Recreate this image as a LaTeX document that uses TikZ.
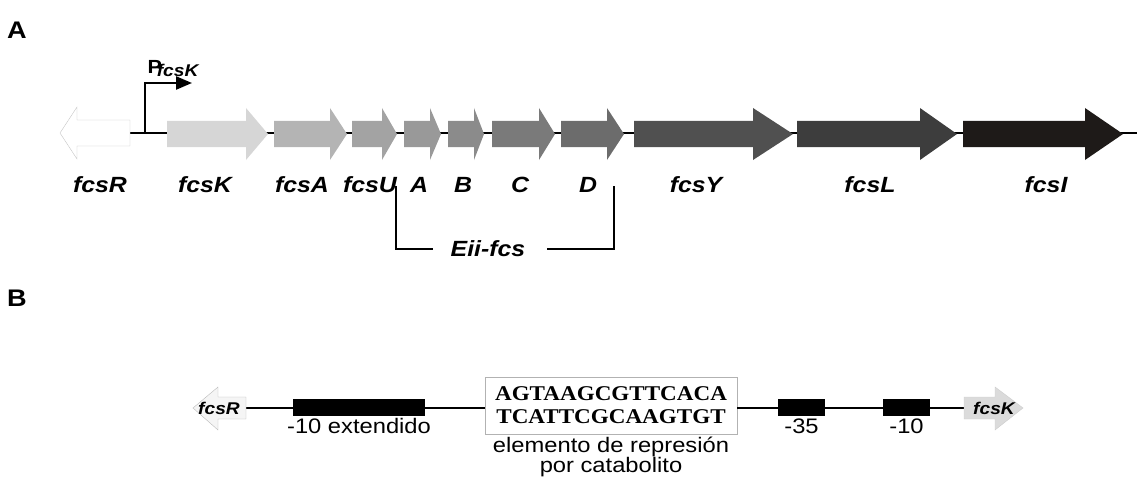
\documentclass[tikz,border=0pt]{standalone}
\usepackage{fontspec}
\setmainfont[FakeStretch=1.13]{Liberation Sans}
\newfontfamily\seqfont[FakeStretch=1.1]{Liberation Serif}
\usetikzlibrary{arrows.meta, positioning}

\tikzset{
  panellabel/.style={font=\fontsize{24}{24}\selectfont\bfseries},
  genelabel/.style={font=\fontsize{22}{24}\selectfont\bfseries\itshape},
  smallgene/.style={font=\fontsize{17}{18}\selectfont\bfseries\itshape, inner sep=0pt},
  boxlabel/.style={font=\fontsize{21}{20}\selectfont, align=center, inner sep=2pt},
  site/.style={fill=black, minimum height=17pt, inner sep=0pt},
  backbone/.style={line width=1.6pt},
}

\begin{document}
\begin{tikzpicture}[x=1pt,y=-1pt]
\useasboundingbox (0,0) rectangle (1137,484);

% ---------------- panel A ----------------
\node (labA) [panellabel] at (17,30) {A};

\coordinate (bbA) at (130,133);
\coordinate (bbAend) at (1137,133);
\draw[backbone] (bbA) -- (bbAend);

% fcsR points to the left
\draw[fill=white, draw=gray!45] (130,120) -- (77,120) -- (77,107) -- (60,133) -- (77,159) -- (77,146) -- (130,146) -- cycle;

% genes: body start / head base / tip / colour
\foreach \xb/\xh/\xt/\col in {167/246/268/D6D6D6, 274/330/347/B4B4B4, 352/382/397/A3A3A3,
  404/430/441/999999, 448/474/484/8B8B8B, 492/539/555/7A7A7A, 561/607/624/6C6C6C,
  634/753/793/505050, 797/920/957/3D3D3D, 963/1085/1123/1E1A18} {
  \definecolor{genecol}{HTML}{\col}
  \fill[genecol] (\xb,121) -- (\xh,121) -- (\xh,108) -- (\xt,134) -- (\xh,160) -- (\xh,147) -- (\xb,147) -- cycle;
}

% promoter
\coordinate (prom) at (145,133);
\coordinate (promtip) at (192,83);
\draw[line width=2.4pt, -{Triangle[length=16pt,width=13pt]}] (prom) |- (promtip);
\node (plabel) [font=\fontsize{19}{19}\selectfont\bfseries] at (173,69) {P\kern-5pt\raisebox{-3pt}{\fontsize{17}{17}\selectfont\itshape fcsK}};

% gene names
\node (lfcsR) [genelabel] at (100,185) {fcsR};
\node (lfcsK) [genelabel] at (205,185) {fcsK};
\node (lfcsA) [genelabel] at (302,185) {fcsA};
\node (lfcsU) [genelabel] at (370,185) {fcsU};
\node (lA) [genelabel] at (419,185) {A};
\node (lB) [genelabel] at (463,185) {B};
\node (lC) [genelabel] at (520,185) {C};
\node (lD) [genelabel] at (588,185) {D};
\node (lfcsY) [genelabel] at (696,185) {fcsY};
\node (lfcsL) [genelabel] at (870,185) {fcsL};
\node (lfcsI) [genelabel] at (1046,185) {fcsI};

% Eii-fcs bracket
\node (eii) [genelabel] at (488,249) {Eii-fcs};
\coordinate (brL) at (396,186);
\coordinate (brR) at (614,186);
\draw[line width=1.3pt] (brL) |- ([xshift=-14pt]eii.west);
\draw[line width=1.3pt] (brR) |- ([xshift=18pt]eii.east);

% ---------------- panel B ----------------
\node (labB) [panellabel] at (17,298) {B};

\node (seq) [draw=gray!60, fill=white, minimum width=252pt, minimum height=57pt, inner sep=0pt,
  align=center, font=\seqfont\fontsize{21}{23}\selectfont\bfseries] at (611,405.5)
  {AGTAAGCGTTCACA\\TCATTCGCAAGTGT};

\coordinate (bbB) at (246,408);
\coordinate (bbBend) at (964,408);
\draw[backbone] (bbB) -- (seq.west |- bbB);
\draw[backbone] (seq.east |- bbBend) -- (bbBend);

% flanking genes
\draw[fill=gray!8, draw=gray!55] (246,397) -- (218,397) -- (218,387) -- (193,408) -- (218,430) -- (218,419) -- (246,419) -- cycle;
\node (bfcsR) [smallgene] at (219,408) {fcsR};
\draw[fill=gray!28, draw=gray!40] (964,397) -- (995,397) -- (995,387) -- (1023,408) -- (995,430) -- (995,419) -- (964,419) -- cycle;
\node (bfcsK) [smallgene] at (994,408) {fcsK};

% promoter elements
\node (ext) [site, minimum width=132pt] at (359,407.5) {};
\node (m35) [site, minimum width=47pt] at (801.5,407.5) {};
\node (m10) [site, minimum width=47pt] at (906.5,407.5) {};

\node (lext) [boxlabel, below=0pt of ext] {-10 extendido};
\node (lm35) [boxlabel, below=0pt of m35] {-35};
\node (lm10) [boxlabel, below=0pt of m10] {-10};
\node (lseq) [boxlabel, below=1pt of seq] {elemento de represión\\por catabolito};
\end{tikzpicture}
\end{document}
